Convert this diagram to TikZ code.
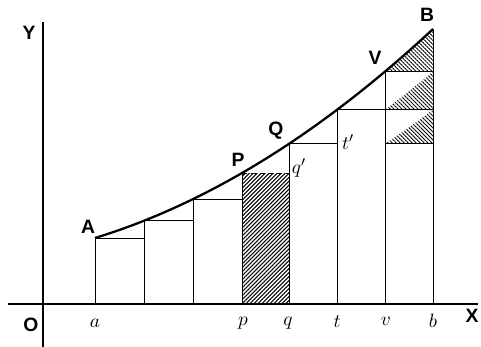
\documentclass[tikz,border=0pt]{standalone}
\usepackage{fontspec}
\newfontfamily\lblfont{Liberation Sans}
\usetikzlibrary{patterns.meta}

\begin{document}
\begin{tikzpicture}[x=0.02cm,y=-0.02cm,
  declare function={cv(\x)=304-(66+30.66*((\x-95)/100)+9.22*((\x-95)/100)^2);},
  ax/.style={line width=1.6pt},
  crv/.style={line width=1.3pt},
  ln/.style={line width=0.5pt},
  lbl/.style={font=\lblfont\bfseries\fontsize{11}{13}\selectfont,inner sep=0pt},
  ord/.style={font=\fontsize{11}{13}\selectfont,inner sep=0pt},
  hatchR/.style={pattern={Lines[angle=45,distance=1.6pt,line width=0.6pt]}},
  hatchT/.style={pattern={Lines[angle=-45,distance=1.6pt,line width=0.5pt]}}
]
  \useasboundingbox (0,0) rectangle (481,347);
  % points on the curve
  \coordinate (A) at (95,{cv(95)});
  \coordinate (c1) at (144,{cv(144)});
  \coordinate (c2) at (193,{cv(193)});
  \coordinate (P) at (242,{cv(242)});
  \coordinate (Q) at (289,{cv(289)});
  \coordinate (T) at (337,{cv(337)});
  \coordinate (V) at (385,{cv(385)});
  \coordinate (B) at (433,{cv(433)});
  % shaded strip pq and the moved pieces
  \fill[hatchR] (242,{cv(242)}) rectangle (289,304);
  \fill[hatchT] plot[domain=385:433,samples=20] (\x,{cv(\x)}) -- (433,{cv(385)}) -- cycle;
  \fill[hatchT] plot[domain=337:385,samples=20] ({\x+48},{cv(\x)}) -- (433,{cv(337)}) -- cycle;
  \fill[hatchT] plot[domain=289:337,samples=20] ({\x+96},{cv(\x)}) -- (433,{cv(289)}) -- cycle;
  % axes
  \draw[ax] (8,304) -- (478,304);
  \draw[ax] (43,22) -- (43,347);
  % ordinates
  \draw[ln] (A) -- (95,304);
  \draw[ln] (c1) -- (144,304);
  \draw[ln] (c2) -- (193,304);
  \draw[ln] (P) -- (242,304);
  \draw[ln] (Q) -- (289,304);
  \draw[ln] (T) -- (337,304);
  \draw[ln] (V) -- (385,304);
  \draw[ln] (B) -- (433,304);
  % steps
  \draw[ln] (A) -- (144,{cv(95)});
  \draw[ln] (c1) -- (193,{cv(144)});
  \draw[ln] (c2) -- (242,{cv(193)});
  \draw[ln,densely dashed] (P) -- (289,{cv(242)});
  \draw[ln] (Q) -- (337,{cv(289)});
  \draw[ln] (T) -- (433,{cv(337)});
  \draw[ln] (V) -- (433,{cv(385)});
  \draw[ln] (385,{cv(289)}) -- (433,{cv(289)});
  % curve
  \draw[crv] plot[domain=95:433,samples=60] (\x,{cv(\x)});
  % labels
  \node[lbl] (lY) at (29,33) {Y};
  \node[lbl] (lO) at (31,325) {O};
  \node[lbl] (lX) at (472,316) {X};
  \node[lbl] (lA) at (88,227) {A};
  \node[lbl] (lP) at (238,160) {P};
  \node[lbl] (lQ) at (276,131) {Q};
  \node[lbl] (lV) at (375,58) {V};
  \node[lbl] (lB) at (427,15) {B};
  \node[ord] (lq1) at (299,168) {$q'$};
  \node[ord] (lt1) at (348,142) {$t'$};
  \node[ord] (la) at (95,323) {$a$};
  \node[ord] (lp) at (243,323) {$p$};
  \node[ord] (lq) at (288,323) {$q$};
  \node[ord] (lt) at (337,322) {$t$};
  \node[ord] (lv) at (386,321) {$v$};
  \node[ord] (lb) at (433,321) {$b$};
\end{tikzpicture}
\end{document}
